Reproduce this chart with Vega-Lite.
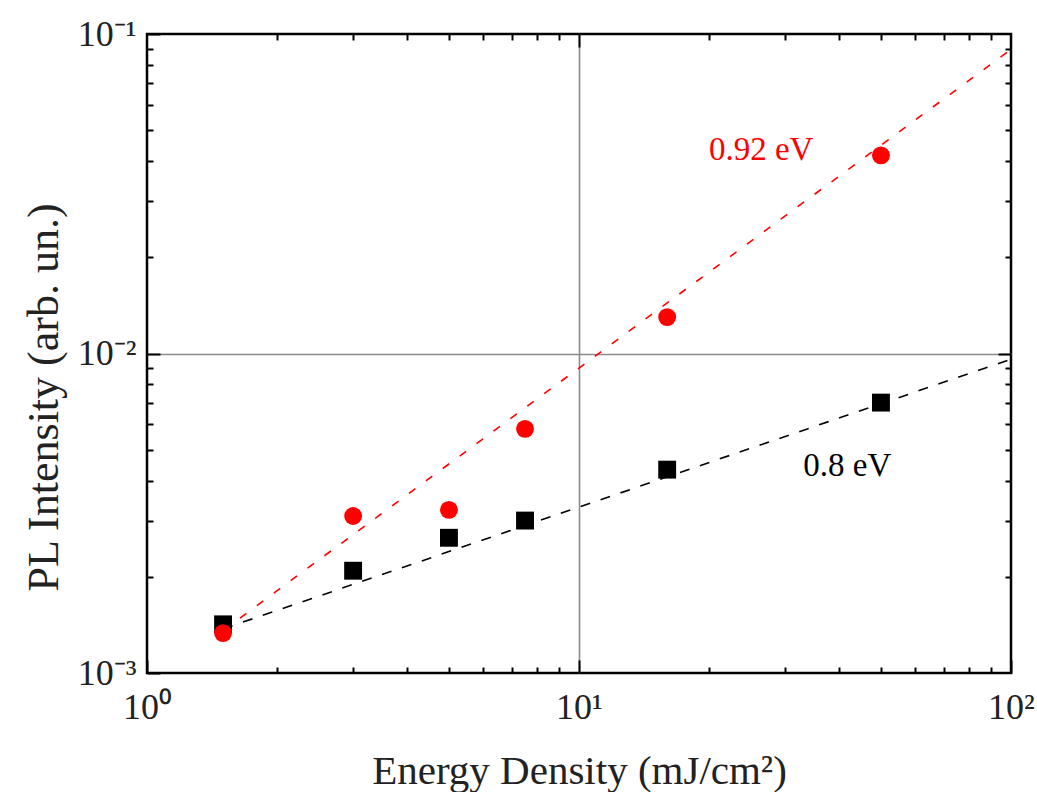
{
  "$schema": "https://vega.github.io/schema/vega-lite/v6.json",
  "autosize": "none",
  "width": 864,
  "height": 639,
  "padding": {"left": 147, "top": 34, "right": 26, "bottom": 119},
  "background": "white",
  "config": {
    "view": {"stroke": "black", "strokeWidth": 2.5},
    "axis": {
      "labelFont": "Liberation Serif",
      "titleFont": "Liberation Serif",
      "labelColor": "#222",
      "titleColor": "#222",
      "titleFontWeight": "normal",
      "tickColor": "black",
      "tickWidth": 2,
      "domain": false,
      "grid": false
    }
  },
  "datasets": {
    "points": [
      {"series": "0.8 eV", "x": 1.5, "y": 0.00142},
      {"series": "0.8 eV", "x": 3, "y": 0.00209},
      {"series": "0.8 eV", "x": 5, "y": 0.00265},
      {"series": "0.8 eV", "x": 7.5, "y": 0.0030},
      {"series": "0.8 eV", "x": 16, "y": 0.00433},
      {"series": "0.8 eV", "x": 50, "y": 0.00702},
      {"series": "0.92 eV", "x": 1.5, "y": 0.001333},
      {"series": "0.92 eV", "x": 3, "y": 0.0031},
      {"series": "0.92 eV", "x": 5, "y": 0.00324},
      {"series": "0.92 eV", "x": 7.5, "y": 0.00581},
      {"series": "0.92 eV", "x": 16, "y": 0.0130},
      {"series": "0.92 eV", "x": 50, "y": 0.0417}
    ],
    "fits": [
      {"series": "0.92 eV", "x": 1.5, "y": 0.001358},
      {"series": "0.92 eV", "x": 100, "y": 0.0895},
      {"series": "0.8 eV", "x": 1.5, "y": 0.001374},
      {"series": "0.8 eV", "x": 100, "y": 0.0096}
    ],
    "labels": [
      {"series": "0.92 eV", "x": 26.4, "y": 0.0432, "label": "0.92 eV"},
      {"series": "0.8 eV", "x": 41.8, "y": 0.00446, "label": "0.8 eV"}
    ]
  },
  "layer": [
    {
      "data": {"name": "fits"},
      "mark": {"type": "line", "strokeWidth": 1.6, "clip": true},
      "encoding": {
        "x": {
          "field": "x", "type": "quantitative",
          "scale": {"type": "log", "domain": [1, 100], "nice": false},
          "axis": {
            "orient": "bottom",
            "values": [1, 10, 100],
            "tickSize": -13,
            "labelPadding": 30,
            "labelFontSize": 36,
            "labelBaseline": "top",
            "labelFlush": false,
            "labelExpr": "datum.value == 1 ? '10⁰' : datum.value == 10 ? '10¹' : '10²'",
            "title": "Energy Density (mJ/cm²)",
            "titleFontSize": 41,
            "titleX": 432,
            "titleY": 110,
            "titleBaseline": "alphabetic",
            "titleAlign": "center"
          }
        },
        "y": {
          "field": "y", "type": "quantitative",
          "scale": {"type": "log", "domain": [0.001, 0.1], "nice": false},
          "axis": {
            "orient": "left",
            "values": [0.001, 0.01, 0.1],
            "tickSize": -13,
            "labelPadding": 24,
            "labelFontSize": 36,
            "labelBaseline": "middle",
            "labelFlush": false,
            "labelExpr": "datum.value < 0.002 ? '10⁻³' : datum.value < 0.02 ? '10⁻²' : '10⁻¹'",
            "title": "PL Intensity (arb. un.)",
            "titleFontSize": 44,
            "titleAngle": -90,
            "titleX": -90,
            "titleY": 363,
            "titleAlign": "center",
            "titleBaseline": "alphabetic"
          }
        },
        "detail": {"field": "series"},
        "color": {
          "field": "series", "type": "nominal",
          "scale": {"domain": ["0.8 eV", "0.92 eV"], "range": ["black", "#ff0000"]},
          "legend": null
        },
        "strokeDash": {
          "field": "series", "type": "nominal",
          "scale": {"domain": ["0.8 eV", "0.92 eV"], "range": [[10, 11], [8, 13]]},
          "legend": null
        }
      }
    },
    {
      "data": {"name": "points"},
      "mark": {"type": "point", "filled": true, "opacity": 1, "size": 320},
      "encoding": {
        "x": {
          "field": "x", "type": "quantitative",
          "axis": {
            "orient": "bottom",
            "values": [2, 3, 4, 5, 6, 7, 8, 9, 20, 30, 40, 50, 60, 70, 80, 90],
            "tickSize": -6, "labels": false, "title": null
          }
        },
        "y": {
          "field": "y", "type": "quantitative",
          "axis": {
            "orient": "left",
            "values": [0.002, 0.003, 0.004, 0.005, 0.006, 0.007, 0.008, 0.009, 0.02, 0.03, 0.04, 0.05, 0.06, 0.07, 0.08, 0.09],
            "tickSize": -6, "labels": false, "title": null
          }
        },
        "color": {"field": "series", "type": "nominal", "legend": null},
        "shape": {
          "field": "series", "type": "nominal",
          "scale": {"domain": ["0.8 eV", "0.92 eV"], "range": ["square", "circle"]},
          "legend": null
        }
      }
    },
    {
      "data": {"name": "labels"},
      "mark": {"type": "text", "font": "Liberation Serif", "fontSize": 33, "align": "center", "baseline": "middle"},
      "encoding": {
        "x": {
          "field": "x", "type": "quantitative",
          "axis": {
            "orient": "top",
            "values": [2, 3, 4, 5, 6, 7, 8, 9, 20, 30, 40, 50, 60, 70, 80, 90],
            "tickSize": -6, "labels": false, "title": null
          }
        },
        "y": {
          "field": "y", "type": "quantitative",
          "axis": {
            "orient": "right",
            "values": [0.002, 0.003, 0.004, 0.005, 0.006, 0.007, 0.008, 0.009, 0.02, 0.03, 0.04, 0.05, 0.06, 0.07, 0.08, 0.09],
            "tickSize": -6, "labels": false, "title": null
          }
        },
        "text": {"field": "label"},
        "color": {"field": "series", "type": "nominal", "legend": null}
      }
    },
    {
      "data": {"name": "points"},
      "mark": {"type": "point", "opacity": 0},
      "encoding": {
        "x": {
          "field": "x", "type": "quantitative",
          "axis": {
            "orient": "top", "values": [10], "tickSize": -13, "labels": false, "title": null,
            "grid": true, "gridColor": "#8a8a8a", "gridWidth": 1.6
          }
        },
        "y": {
          "field": "y", "type": "quantitative",
          "axis": {
            "orient": "right", "values": [0.01], "tickSize": -13, "labels": false, "title": null,
            "grid": true, "gridColor": "#8a8a8a", "gridWidth": 1.6
          }
        }
      }
    }
  ],
  "resolve": {"axis": {"x": "independent", "y": "independent"}}
}
